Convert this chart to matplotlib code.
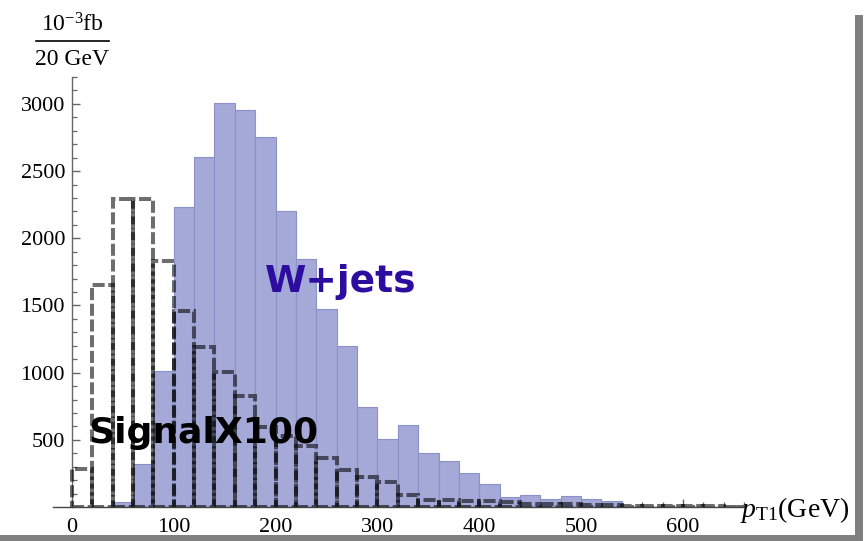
import matplotlib
matplotlib.use("Agg")
import matplotlib.pyplot as plt
from matplotlib.patches import Rectangle
from matplotlib.lines import Line2D
import numpy as np

plt.rcParams['mathtext.fontset'] = 'custom'
plt.rcParams['mathtext.rm'] = 'Liberation Serif'
plt.rcParams['mathtext.it'] = 'Liberation Serif:italic'
plt.rcParams['mathtext.bf'] = 'Liberation Serif:bold'

# 20 GeV bins of leading-lepton pT
bin_edges = list(range(0, 680, 20))
wjets = [0, 0, 40, 320, 1010, 2234, 2606, 3008, 2956, 2755, 2204, 1847,
         1470, 1200, 742, 505, 609, 401, 341, 252, 171, 74, 89, 59, 82,
         59, 45, 0, 0, 0, 0, 0, 0]
signal_x100 = [282, 1653, 2293, 2293, 1832, 1455, 1190, 1005, 826, 596, 530,
               454, 365, 275, 223, 186, 89, 55, 50, 48, 45, 35, 25, 22, 20,
               18, 15, 10, 8, 6, 5, 4, 3]
x_ticks = [0, 100, 200, 300, 400, 500, 600]
y_ticks = [500, 1000, 1500, 2000, 2500, 3000]

W, H = 868, 541
fig = plt.figure(figsize=(W / 100, H / 100), dpi=100)
ax = fig.add_axes([52.6 / W, (H - 507) / H, (745 - 52.6) / W, (507 - 77) / H])
ax.set_xlim(-19, 661)
ax.set_ylim(0, 3200)

lefts = np.array(bin_edges[:-1])
widths = np.diff(bin_edges)

# background histogram
ax.bar(lefts, wjets, width=widths, align='edge', color='#a4a9d7',
       edgecolor='#8c92c9', linewidth=0.8, zorder=2)

# signal histogram, each bin as a dashed outline
for x0, w, h in zip(lefts, widths, signal_x100):
    ax.add_patch(Rectangle((x0, 0), w, h, fill=False,
                           edgecolor=(0, 0, 0, 0.57), linewidth=2.9,
                           linestyle=(0, (3.0, 0.9)), capstyle='butt',
                           joinstyle='miter', zorder=3))

# axes in the crossing style
for s in ('top', 'right'):
    ax.spines[s].set_visible(False)
ax.spines['left'].set_position(('data', 0))
ax.spines['left'].set_color('#666666')
ax.spines['bottom'].set_color('#444444')
ax.spines['left'].set_linewidth(1.0)
ax.spines['bottom'].set_linewidth(1.0)
ax.spines['left'].set_zorder(1)

ax.set_xticks(x_ticks)
ax.set_xticks(np.arange(-0, 661, 20), minor=True)
ax.set_yticks(y_ticks)
ax.set_yticks(np.arange(100, 3201, 100), minor=True)
ax.set_xticklabels([str(v) for v in x_ticks])
ax.set_yticklabels([str(v) for v in y_ticks])

for lab in ax.get_xticklabels() + ax.get_yticklabels():
    lab.set_fontfamily('Liberation Serif')
    lab.set_fontsize(16)

ax.tick_params(axis='both', which='major', direction='in', length=6,
               width=1.0, color='#666666')
ax.tick_params(axis='both', which='minor', direction='in', length=3.3,
               width=0.9, color='#666666')
ax.tick_params(axis='y', which='major', pad=5)
ax.tick_params(axis='x', which='major', pad=8)

# axis labels
serif = 'Liberation Serif'
fig.text(72 / W, 1 - 32 / H, r'$10^{-3}$fb', ha='center', va='baseline',
         fontsize=17, family=serif)
fig.add_artist(Line2D([36 / W, 109 / W], [1 - 41 / H] * 2, color='black',
                      linewidth=1.2))
fig.text(72 / W, 1 - 65 / H, '20 GeV', ha='center', va='baseline',
         fontsize=17, family=serif)
fig.text(740 / W, 1 - 517 / H, r'$p_{\mathrm{T1}}$(GeV)', ha='left',
         va='baseline', fontsize=20, family=serif)

# annotations
fig.text(265 / W, 1 - 292 / H, 'W+jets', ha='left', va='baseline',
         fontsize=27, fontweight='bold', color='#2d0ca0', family='DejaVu Sans',
         zorder=5)
fig.text(88 / W, 1 - 443 / H, 'SignalX100', ha='left', va='baseline',
         fontsize=26, fontweight='bold', color='black', family='DejaVu Sans',
         zorder=5)

# drop-shadow frame
fig.add_artist(Rectangle((855 / W, 1 - 541 / H), 8 / W, (541 - 15) / H,
                         transform=fig.transFigure, color='#808080', lw=0))
fig.add_artist(Rectangle((0, 1 - 541 / H), 863 / W, 6 / H,
                         transform=fig.transFigure, color='#808080', lw=0))

fig.savefig('out.png', dpi=100)
